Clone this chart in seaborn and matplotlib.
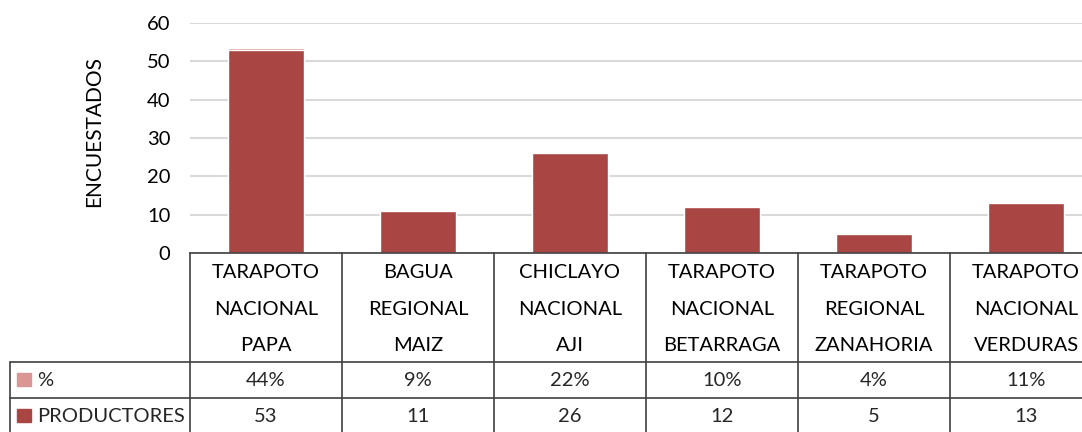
import numpy as np
import pandas as pd
import matplotlib
matplotlib.use("Agg")
import matplotlib.pyplot as plt
import matplotlib.transforms as mtransforms
import seaborn as sns

# data
categorias = ["TARAPOTO\nNACIONAL\nPAPA", "BAGUA\nREGIONAL\nMAIZ", "CHICLAYO\nNACIONAL\nAJI",
              "TARAPOTO\nNACIONAL\nBETARRAGA", "TARAPOTO\nREGIONAL\nZANAHORIA", "TARAPOTO\nNACIONAL\nVERDURAS"]
productores = [53, 11, 26, 12, 5, 13]
porcentaje = [0.44, 0.09, 0.22, 0.10, 0.04, 0.11]
pct_labels = ["44%", "9%", "22%", "10%", "4%", "11%"]

col_dark = "#A94644"
col_light = "#D99694"
line_col = "#404040"

sns.set_theme(style="white")
plt.rcParams['font.family'] = ['Lato', 'DejaVu Sans']

df = pd.DataFrame({"cat": categorias, "prod": productores, "pct": porcentaje})
df["total"] = df["prod"] + df["pct"]

fig = plt.figure(figsize=(10.82, 4.32), dpi=100)
ax = fig.add_axes([190/1082, (432-253)/432, 912/1082, 230/432])

# stacked: % on top of PRODUCTORES
sns.barplot(data=df, x="cat", y="total", color=col_light, width=0.5, ax=ax, saturation=1)
sns.barplot(data=df, x="cat", y="prod", color=col_dark, width=0.5, ax=ax, saturation=1)

ax.set_ylim(0, 60)
ax.set_xlim(-0.5, len(categorias) - 0.5)
ax.set_yticks(range(0, 61, 10))
ax.yaxis.grid(True, color="#D9D9D9", lw=1.5)
ax.set_axisbelow(True)
for s in ["top", "right", "left"]:
    ax.spines[s].set_visible(False)
ax.spines["bottom"].set_color(line_col)
ax.spines["bottom"].set_linewidth(1.2)
ax.tick_params(axis="y", length=0, pad=14, labelsize=14.5, labelcolor="black")
ax.set_ylabel("ENCUESTADOS", fontsize=15, color="black")
ax.yaxis.set_label_coords(-0.094, 0.53)
ax.set_xlabel("")
ax.set_xticks(range(len(categorias)))
ax.set_xticklabels(categorias, fontsize=14.5, linespacing=2.4, color="black")
ax.tick_params(axis="x", length=0, pad=8)

# data table below the axis
tr = mtransforms.blended_transform_factory(ax.transData, ax.transAxes)
n = len(categorias)
y_hdr = -109/230
y_pct = -145/230
y_prod = -181/230
x_lab = -0.5 - 180/152

kw = dict(color=line_col, lw=1.2, transform=tr, clip_on=False)
for i in range(n + 1):
    ax.plot([i - 0.5, i - 0.5], [0, y_prod], **kw)
ax.plot([x_lab, x_lab], [y_hdr, y_prod], **kw)
ax.plot([x_lab, n - 0.5], [y_hdr, y_hdr], **kw)
ax.plot([x_lab, n - 0.5], [y_pct, y_pct], **kw)

for i in range(n):
    ax.text(i, (y_hdr + y_pct) / 2, pct_labels[i], ha="center", va="center",
            fontsize=14.5, transform=tr)
    ax.text(i, (y_pct + y_prod) / 2, str(productores[i]), ha="center", va="center",
            fontsize=14.5, transform=tr)

# row labels with legend keys
px = 1 / 152
ax.add_patch(plt.Rectangle((x_lab + 7*px, (y_hdr + y_pct) / 2 - 6/230), 14*px, 13/230,
                           color=col_light, transform=tr, clip_on=False))
ax.add_patch(plt.Rectangle((x_lab + 7*px, (y_pct + y_prod) / 2 - 6/230), 14*px, 13/230,
                           color=col_dark, transform=tr, clip_on=False))
ax.text(x_lab + 27*px, (y_hdr + y_pct) / 2, "%", ha="left", va="center", fontsize=14.5, transform=tr)
ax.text(x_lab + 27*px, (y_pct + y_prod) / 2, "PRODUCTORES", ha="left", va="center",
        fontsize=14.5, transform=tr)

fig.savefig("out.png", dpi=100)
